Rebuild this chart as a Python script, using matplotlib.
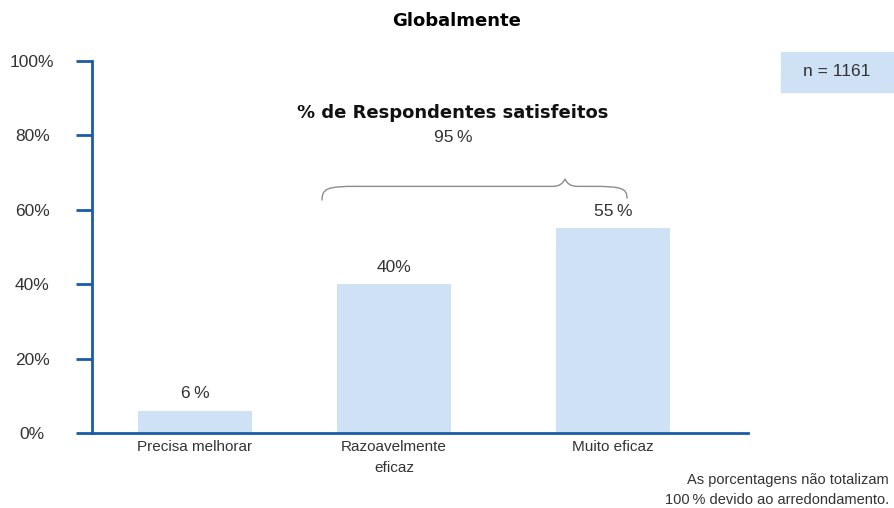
import matplotlib
matplotlib.use("Agg")
import matplotlib.pyplot as plt
from matplotlib.path import Path
import matplotlib.patches as mpatches

plt.rcParams['font.family'] = ['Liberation Sans', 'DejaVu Sans']

categories = ["Precisa melhorar", "Razoavelmente\neficaz", "Muito eficaz"]
values = [6, 40, 55]
value_labels = ["6\u2009%", "40%", "55\u2009%"]
yticks = [0, 20, 40, 60, 80, 100]
ytick_labels = ["0%", "20%", "40%", "60%", "80%", "100%"]
satisfied_label = "95\u2009%"

BLUE = "#1a5ca8"
BAR = "#cfe1f5"
GREY = "#333333"

W, H, DPI = 894, 508, 100
fig = plt.figure(figsize=(W / DPI, H / DPI), dpi=DPI)
# axes box in pixels: x 92..748, y 61..433 (top-down)
ax = fig.add_axes([92 / W, (H - 433) / H, 656 / W, 372 / H])
ax.set_xlim(0, 6.56)
ax.set_ylim(0, 100)

xpos = [1.03, 3.02, 5.21]
ax.bar(xpos, values, width=1.14, color=BAR, zorder=1)
for x, v, lab in zip(xpos, values, value_labels):
    ax.text(x, v + 2.5, lab, ha="center", va="bottom", fontsize=12.5, color=GREY)

for s in ("top", "right"):
    ax.spines[s].set_visible(False)
for s in ("left", "bottom"):
    ax.spines[s].set_color(BLUE)
    ax.spines[s].set_linewidth(2)

ax.set_yticks(yticks)
ax.set_yticklabels(ytick_labels, ha="center", va="center_baseline")
ax.tick_params(axis="y", length=11.5, width=2, color=BLUE, pad=31.5,
               labelsize=12.5, labelcolor=GREY)
ax.set_xticks(xpos)
ax.set_xticklabels(categories, fontsize=11, color=GREY, linespacing=1.6)
ax.tick_params(axis="x", length=0, pad=5)

# brace over the two satisfied bars
x0, x1, xm = 2.30, 5.35, 4.73
yb, yf, yp = 62.5, 66.3, 68.3
verts = [
    (x0, yb), (x0, yf - 0.5), (x0 + 0.05, yf), (x0 + 0.35, yf),
    (xm - 0.12, yf), (xm - 0.03, yf), (xm, yp),
    (xm + 0.03, yf), (xm + 0.12, yf), (x1 - 0.35, yf),
    (x1 - 0.05, yf), (x1, yf - 0.5), (x1, yb + 0.5),
]
codes = [Path.MOVETO, Path.CURVE4, Path.CURVE4, Path.CURVE4,
         Path.LINETO, Path.CURVE3, Path.CURVE3,
         Path.CURVE3, Path.CURVE3, Path.LINETO,
         Path.CURVE4, Path.CURVE4, Path.CURVE4]
ax.add_patch(mpatches.PathPatch(Path(verts, codes), fill=False,
                                edgecolor="#8c8c8c", linewidth=1, clip_on=False))

fig.text(457 / W, 1 - 21 / H, "Globalmente", ha="center", va="center",
         fontsize=13, fontweight="bold", color="black", family="DejaVu Sans")
fig.text(453 / W, 1 - 113 / H, "% de Respondentes satisfeitos", ha="center",
         va="center", fontsize=13, fontweight="bold", color="#111111",
         family="DejaVu Sans")
fig.text(453 / W, 1 - 137 / H, satisfied_label, ha="center", va="center",
         fontsize=12.5, color=GREY)

# n box
fig.patches.append(mpatches.Rectangle((781 / W, 1 - 92 / H), 112 / W, 40 / H,
                                      transform=fig.transFigure, color=BAR,
                                      zorder=0))
fig.text(837 / W, 1 - 72 / H, "n = 1161", ha="center", va="center",
         fontsize=12.5, color=GREY)

fig.text(889 / W, 1 - 480 / H, "As porcentagens não totalizam", ha="right",
         va="center", fontsize=10.5, color=GREY)
fig.text(889 / W, 1 - 500 / H, "100\u2009% devido ao arredondamento.", ha="right",
         va="center", fontsize=10.5, color=GREY)

fig.savefig("out.png", dpi=DPI)
